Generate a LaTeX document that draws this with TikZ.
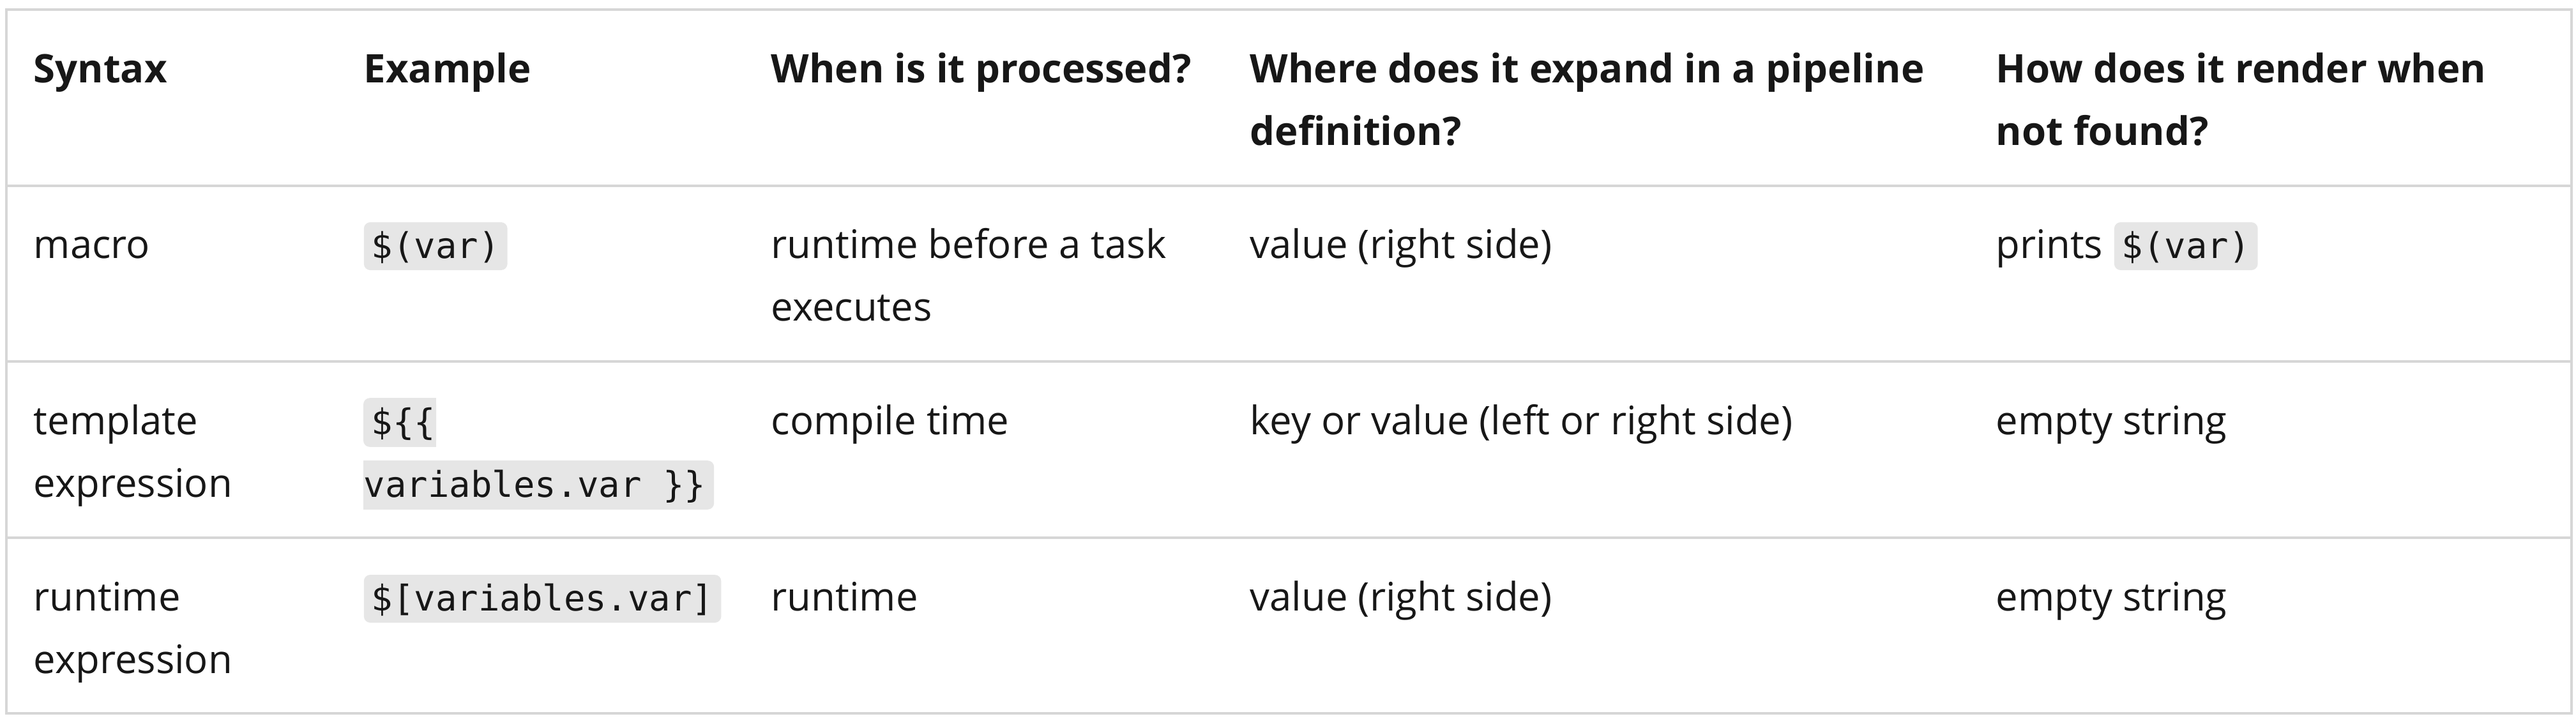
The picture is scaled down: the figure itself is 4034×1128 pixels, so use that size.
\documentclass[tikz,border=0pt]{standalone}
\usepackage{fontspec}
\setmainfont{Open Sans}
\newfontfamily\monofam{DejaVu Sans Mono}
\usetikzlibrary{positioning,backgrounds}
\definecolor{ink}{HTML}{171717}
\definecolor{rulegrey}{HTML}{D6D6D6}
\definecolor{chipgrey}{HTML}{E6E6E6}
\newcommand\tabfont{\fontsize{15.4pt}{24.5pt}\selectfont}
\newcommand\tabheadfont{\tabfont\bfseries}
\newcommand\tabcodefont{\monofam\fontsize{13.9pt}{24.5pt}\selectfont}
\begin{document}
\begin{tikzpicture}[
    x=0.25pt, y=-0.25pt,
    cell/.style={anchor=base west, inner sep=0pt, align=left, text=ink, font=\tabfont},
    head/.style={cell, font=\tabheadfont},
    code/.style={anchor=base west, inner sep=0pt, text height=14pt, text depth=4.75pt, text=ink, font=\tabcodefont},
    chip/.style={code, inner xsep=3pt, fill=chipgrey, rounded corners=2.5pt},
    rule/.style={draw=rulegrey, line width=1pt}
]
    \useasboundingbox (0,0) rectangle (4034,1128);

    \draw[rule] (10,14.5) rectangle (4027,1117);
    \foreach \y in {291,565.5,842}
        \draw[rule] (10,\y) -- (4027,\y);

    \node[head] at (52,129) (h1) {Syntax};
    \node[head] at (569,129) (h2) {Example};
    \node[head] at (1207,129) (h3) {When is it processed?};
    \node[head] at (1957,227) (h4) {Where does it expand in a pipeline\\definition?};
    \node[head] at (3125,227) (h5) {How does it render when\\not found?};

    \node[cell] at (52,404) (m1) {macro};
    \node[chip] at (569,404) (m2) {\$(var)};
    \node[cell] at (1207,502) (m3) {runtime before a task\\executes};
    \node[cell] at (1957,404) (m4) {value (right side)};
    \node[cell] at (3125,404) (m5) {prints};
    \node[chip, right=4pt of m5.base east, anchor=base west] (m6) {\$(var)};

    \node[cell] at (52,778) (t1) {template\\expression};
    \node[code] at (581,680) (t2a) {\$\{\{};
    \node[code] at (569,778) (t2b) {variables.var \}\}};
    \node[cell] at (1207,680) (t3) {compile time};
    \node[cell] at (1957,680) (t4) {key or value (left or right side)};
    \node[cell] at (3125,680) (t5) {empty string};

    \node[cell] at (52,1054) (r1) {runtime\\expression};
    \node[chip] at (569,956) (r2) {\$[variables.var]};
    \node[cell] at (1207,956) (r3) {runtime};
    \node[cell] at (1957,956) (r4) {value (right side)};
    \node[cell] at (3125,956) (r5) {empty string};

    \begin{scope}[on background layer]
        \fill[chipgrey, rounded corners=2.5pt] ([xshift=-3pt]t2a.north west) rectangle (t2a.south east);
        \fill[chipgrey] (t2a.north) rectangle (t2a.south east);
        \fill[chipgrey, rounded corners=2.5pt] (t2b.north west) rectangle ([xshift=3pt]t2b.south east);
        \fill[chipgrey] (t2b.north west) rectangle (t2b.south);
    \end{scope}
\end{tikzpicture}
\end{document}
